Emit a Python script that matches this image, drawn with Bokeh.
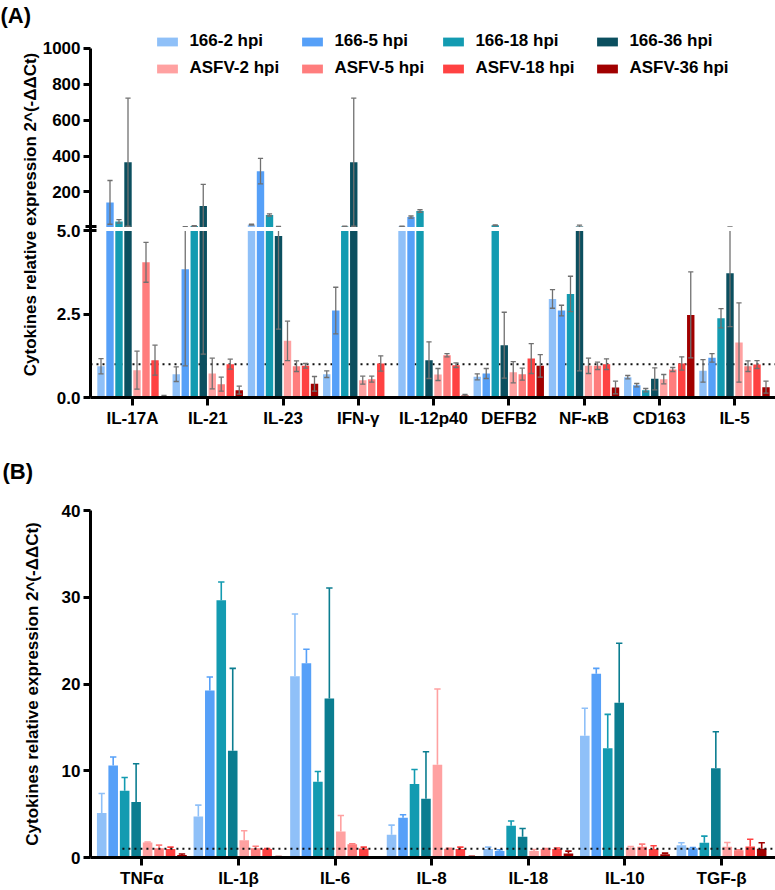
import numpy as np
from bokeh.plotting import figure
from bokeh.layouts import column
from bokeh.models import (Range1d, FixedTicker, CustomJSTickFormatter, Legend, LegendItem, Span,
                          ColumnDataSource, CustomJSTransform, BoxAnnotation, Title)
from bokeh.transform import transform
from bokeh.embed import file_html
from bokeh.resources import INLINE

FONT = "Liberation Sans"

# ---------------- data ----------------
series = ["166-2 hpi", "166-5 hpi", "166-18 hpi", "166-36 hpi",
          "ASFV-2 hpi", "ASFV-5 hpi", "ASFV-18 hpi", "ASFV-36 hpi"]

genes_a = ["IL-17A", "IL-21", "IL-23", "IFN-γ", "IL-12p40", "DEFB2", "NF-κB", "CD163", "IL-5"]
a_166_2 = [0.94, 0.70, 18, 0.70, 8, 0.62, 2.96, 0.61, 0.80]
a_166_2_sd = [0.23, 0.22, 2, 0.10, 1, 0.09, 0.28, 0.05, 0.34]
a_166_5 = [142, 3.85, 316, 2.61, 60, 0.72, 2.61, 0.37, 1.19]
a_166_5_sd = [122, 2.9, 71, 0.70, 6, 0.15, 0.16, 0.05, 0.13]
a_166_18 = [36, 10, 72, 8, 94, 15, 3.11, 0.22, 2.38]
a_166_18_sd = [10, 2, 6, 1, 7, 2, 0.53, 0.05, 0.29]
a_166_36 = [366, 122, 4.85, 366, 1.12, 1.57, 8, 0.56, 3.73]
a_166_36_sd = [357, 120.7, 2.8, 357, 0.55, 0.99, 7.2, 0.33, 1.6]
a_asfv_2 = [0.82, 0.72, 1.70, 0.52, 0.69, 0.76, 0.95, 0.55, 1.65]
a_asfv_2_sd = [0.57, 0.46, 0.59, 0.12, 0.18, 0.32, 0.23, 0.14, 1.19]
a_asfv_5 = [4.06, 0.40, 0.94, 0.55, 1.27, 0.70, 0.95, 0.84, 0.94]
a_asfv_5_sd = [0.60, 0.21, 0.16, 0.09, 0.05, 0.18, 0.11, 0.06, 0.16]
a_asfv_18 = [1.12, 1.0, 0.95, 1.02, 0.97, 1.17, 1.0, 1.02, 0.99]
a_asfv_18_sd = [0.45, 0.15, 0.07, 0.23, 0.07, 0.45, 0.16, 0.20, 0.12]
a_asfv_36 = [0.03, 0.22, 0.41, 0.0, 0.06, 0.95, 0.30, 2.48, 0.31]
a_asfv_36_sd = [0.03, 0.12, 0.22, 0.0, 0.03, 0.34, 0.19, 1.29, 0.18]

genes_b = ["TNFα", "IL-1β", "IL-6", "IL-8", "IL-18", "IL-10", "TGF-β"]
b_166_2 = [5.12, 4.73, 20.9, 2.62, 0.97, 14.04, 1.42]
b_166_2_sd = [2.26, 1.31, 7.17, 1.11, 0.23, 3.16, 0.28]
b_166_5 = [10.6, 19.26, 22.38, 4.58, 0.74, 21.19, 1.08]
b_166_5_sd = [0.98, 1.54, 1.62, 0.34, 0.16, 0.61, 0.07]
b_166_18 = [7.69, 29.64, 8.73, 8.46, 3.66, 12.6, 1.69]
b_166_18_sd = [1.54, 2.12, 1.19, 1.69, 0.54, 3.9, 0.77]
b_166_36 = [6.39, 12.3, 18.34, 6.77, 2.39, 17.84, 10.3]
b_166_36_sd = [4.41, 9.5, 12.73, 5.42, 0.96, 6.86, 4.2]
b_asfv_2 = [1.73, 2.0, 3.0, 10.69, 0.74, 1.12, 1.23]
b_asfv_2_sd = [0.05, 1.08, 1.85, 8.73, 0.19, 0.15, 0.5]
b_asfv_5 = [1.08, 1.08, 1.54, 1.0, 0.97, 1.23, 0.85]
b_asfv_5_sd = [0.35, 0.22, 0.05, 0.05, 0.05, 0.31, 0.05]
b_asfv_18 = [0.97, 0.97, 1.04, 0.97, 0.97, 0.97, 1.27]
b_asfv_18_sd = [0.23, 0.05, 0.16, 0.23, 0.13, 0.38, 0.83]
b_asfv_36 = [0.28, 0.1, 0.05, 0.15, 0.46, 0.38, 1.0]
b_asfv_36_sd = [0.12, 0.0, 0.0, 0.0, 0.28, 0.12, 0.7]

y_label = "Cytokines relative expression 2^(-ΔΔCt)"
ticks_a_top = [200, 400, 600, 800, 1000]
ticks_a_bottom = [0, 2.5, 5]
ticks_b = [0, 10, 20, 30, 40]
ref_level = 1
axis_break = 5
a_top_max = 1000
b_max = 40

means_a = [a_166_2, a_166_5, a_166_18, a_166_36, a_asfv_2, a_asfv_5, a_asfv_18, a_asfv_36]
sds_a = [a_166_2_sd, a_166_5_sd, a_166_18_sd, a_166_36_sd, a_asfv_2_sd, a_asfv_5_sd, a_asfv_18_sd, a_asfv_36_sd]
means_b = [b_166_2, b_166_5, b_166_18, b_166_36, b_asfv_2, b_asfv_5, b_asfv_18, b_asfv_36]
sds_b = [b_166_2_sd, b_166_5_sd, b_166_18_sd, b_166_36_sd, b_asfv_2_sd, b_asfv_5_sd, b_asfv_18_sd, b_asfv_36_sd]

colors_a = ["#8fc0f8", "#56a0f8", "#139bb1", "#0b4f5f", "#ffa1a1", "#ff7d7d", "#ff4242", "#a10000"]
colors_b = ["#8fc0f8", "#56a0f8", "#139bb1", "#0b7d90", "#ffa1a1", "#ff7d7d", "#ff4242", "#a10000"]
ERR_A = "#707070"

# ---------------- geometry ----------------
W = 775
A_H = 433
B_H = 890 - A_H
A_LEFT, B_LEFT = 90, 88
A_FRAME_TOP, A_FRAME_BOT = 30, 397          # canvas px
SEG_BOT_TOP, SEG_TOP_BOT, SEG_TOP_TOP = 230, 226, 47
PXU = (A_FRAME_BOT - SEG_BOT_TOP) / axis_break          # px per unit, lower segment
GAP = (SEG_BOT_TOP - SEG_TOP_BOT) / PXU                  # display units of the break gap
TOP_K = ((SEG_TOP_BOT - SEG_TOP_TOP) / PXU) / (a_top_max - axis_break)
D_END = (A_FRAME_BOT - A_FRAME_TOP) / PXU


def to_display(v):
    return v if v <= axis_break else axis_break + GAP + (v - axis_break) * TOP_K


GA, GB = 75.25, 96.9                      # px per group
XA0 = -(132 - A_LEFT) / GA
XA1 = XA0 + (W - A_LEFT) / GA
XB0 = -(139.5 - B_LEFT) / GB
XB1 = XB0 + (W - B_LEFT) / GB
PITCH_A, BAR_A, CAP_A = 9.0 / GA, 7.4 / GA, 2.6 / GA
PITCH_B, BAR_B, CAP_B = 11.5 / GB, 9.6 / GB, 3.2 / GB
REF_B_START = XB0 + (120 - B_LEFT) / GB


def style_common(p):
    p.outline_line_color = None
    p.grid.grid_line_color = None
    p.background_fill_color = "white"
    p.border_fill_color = "white"


def style_axis(ax, tick_out=7):
    ax.axis_line_width = 3
    ax.axis_line_color = "black"
    ax.major_tick_line_width = 3
    ax.major_tick_line_color = "black"
    ax.major_tick_in = 0
    ax.major_tick_out = tick_out
    ax.minor_tick_line_color = "black"
    ax.major_label_text_font = FONT
    ax.major_label_text_font_style = "bold"
    ax.major_label_text_font_size = "17px"
    ax.major_label_text_color = "black"
    ax.major_label_standoff = 3


def style_ylabel(ax, standoff):
    ax.axis_label = y_label
    ax.axis_label_text_font = FONT
    ax.axis_label_text_font_style = "bold"
    ax.axis_label_text_font_size = "17px"
    ax.axis_label_text_color = "black"
    ax.axis_label_standoff = standoff


def panel_title(tag, offset, standoff):
    return Title(text=tag, align="left", offset=offset, standoff=standoff, vertical_align="top",
                 text_font=FONT, text_font_style="bold", text_font_size="22px", text_color="black")


xa = np.arange(len(genes_a))
xb = np.arange(len(genes_b))

# ---------------- panel A (broken y axis) ----------------
brk = CustomJSTransform(
    args=dict(b=axis_break, g=GAP, k=TOP_K),
    func="return x <= b ? x : b + g + (x - b) * k;",
    v_func="""
const out = new Float64Array(xs.length);
for (let i = 0; i < xs.length; i++) {
  const x = xs[i];
  out[i] = x <= b ? x : b + g + (x - b) * k;
}
return out;
""")

figA = figure(width=W, height=A_H, x_range=Range1d(XA0, XA1), y_range=Range1d(0, D_END),
              toolbar_location=None, output_backend="svg",
              title=panel_title("(A)", -A_LEFT, 4),
              min_border_left=A_LEFT, min_border_right=0,
              min_border_top=A_FRAME_TOP, min_border_bottom=A_H - A_FRAME_BOT)
style_common(figA)
style_axis(figA.yaxis[0])
style_axis(figA.xaxis[0], tick_out=8)
ya = figA.yaxis[0]
style_ylabel(ya, 0)
ya.ticker = FixedTicker(ticks=ticks_a_bottom + [to_display(v) for v in ticks_a_top],
                        minor_ticks=[axis_break, axis_break + GAP])
ya.formatter = CustomJSTickFormatter(
    args=dict(b=axis_break, g=GAP, k=TOP_K),
    code="if (tick <= b + 1e-6) { return tick.toFixed(1); } return String(Math.round(b + (tick - b - g) / k));")
ya.bounds = (0, to_display(a_top_max))
ya.minor_tick_in = 6
ya.minor_tick_out = 5
ya.minor_tick_line_width = 3
figA.xaxis[0].ticker = FixedTicker(ticks=list(xa))
figA.xaxis[0].major_label_overrides = {int(i): g for i, g in zip(xa, genes_a)}
figA.add_layout(Span(location=ref_level, dimension="width", line_color="#111111", line_width=2,
                     line_dash="2 4", level="underlay"))

rend = []
for k in range(8):
    x = xa + (k - 3.5) * PITCH_A
    m = np.array(means_a[k], dtype=float)
    s = np.array(sds_a[k], dtype=float)
    src = ColumnDataSource(dict(x=x, m=m, lo=m - s, hi=m + s, cl=x - CAP_A, cr=x + CAP_A))
    r = figA.vbar(x="x", top=transform("m", brk), bottom=0, width=BAR_A, source=src,
                  fill_color=colors_a[k], line_color=None)
    rend.append(r)
    figA.segment(x0="x", y0=transform("lo", brk), x1="x", y1=transform("hi", brk), source=src,
                 line_color=ERR_A, line_width=1.3)
    figA.segment(x0="cl", y0=transform("hi", brk), x1="cr", y1=transform("hi", brk), source=src,
                 line_color=ERR_A, line_width=1.3)
    figA.segment(x0="cl", y0=transform("lo", brk), x1="cr", y1=transform("lo", brk), source=src,
                 line_color=ERR_A, line_width=1.3)

# white gap of the axis break across the bars
figA.add_layout(BoxAnnotation(bottom=axis_break, top=axis_break + GAP, fill_color="white",
                              fill_alpha=1.0, line_color=None, level="glyph"))

# legend: four columns of two rows
LEG_X = [157 - A_LEFT - 2.6, 302 - A_LEFT - 2.6, 443 - A_LEFT - 2.6, 597 - A_LEFT - 2.6]
for c in range(4):
    items = [LegendItem(label=series[c], renderers=[rend[c]]),
             LegendItem(label=series[c + 4], renderers=[rend[c + 4]])]
    lg = Legend(items=items, location=(LEG_X[c], A_FRAME_BOT - 78), orientation="vertical",
                padding=0, margin=0, spacing=7, glyph_width=26, glyph_height=11,
                label_standoff=9, label_height=20,
                label_text_font=FONT, label_text_font_style="bold", label_text_font_size="17px",
                label_text_color="black", border_line_alpha=0, background_fill_alpha=0)
    figA.add_layout(lg)

# ---------------- panel B ----------------
B_TOP, B_BOT = 77, 32
figB = figure(width=W, height=B_H, x_range=Range1d(XB0, XB1), y_range=Range1d(0, b_max),
              toolbar_location=None, output_backend="svg",
              title=panel_title("(B)", -B_LEFT, 50),
              min_border_left=B_LEFT, min_border_right=0, min_border_top=B_TOP, min_border_bottom=B_BOT)
style_common(figB)
style_axis(figB.yaxis[0])
style_axis(figB.xaxis[0], tick_out=8)
style_ylabel(figB.yaxis[0], 17)
figB.yaxis[0].ticker = FixedTicker(ticks=ticks_b)
figB.xaxis[0].ticker = FixedTicker(ticks=list(xb))
figB.xaxis[0].major_label_overrides = {int(i): g for i, g in zip(xb, genes_b)}

for k in range(8):
    x = xb + (k - 3.5) * PITCH_B
    m = np.array(means_b[k], dtype=float)
    s = np.array(sds_b[k], dtype=float)
    src = ColumnDataSource(dict(x=x, m=m, hi=m + s, cl=x - CAP_B, cr=x + CAP_B))
    figB.vbar(x="x", top="m", bottom=0, width=BAR_B, source=src, fill_color=colors_b[k], line_color=None)
    figB.segment(x0="x", y0="m", x1="x", y1="hi", source=src, line_color=colors_b[k], line_width=1.6)
    figB.segment(x0="cl", y0="hi", x1="cr", y1="hi", source=src, line_color=colors_b[k], line_width=1.6)

figB.segment(x0=[REF_B_START], y0=[ref_level], x1=[XB1], y1=[ref_level],
             line_color="#111111", line_width=2, line_dash="2 4")

layout = column(figA, figB)
open("out.html", "w").write(file_html(layout, INLINE))
